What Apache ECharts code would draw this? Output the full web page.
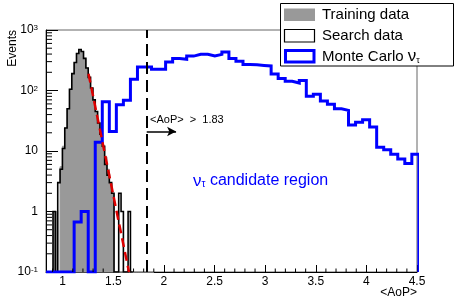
<!DOCTYPE html>
<html><head><meta charset="utf-8">
<script src="https://cdn.jsdelivr.net/npm/echarts@6/dist/echarts.min.js"></script>
<style>html,body{margin:0;padding:0;background:#fff}#c{width:463px;height:303px}</style>
</head><body><div id="c"></div>
<script>
// ---- axes ----
const xMin = 0.835, xMax = 4.5;
const yMin = 0.1, yMax = 1000;
const xLabelTicks = [1, 1.5, 2, 2.5, 3, 3.5, 4, 4.5];
const xMinorTicks = [0.9,1.1,1.2,1.3,1.4,1.6,1.7,1.8,1.9,2.1,2.2,2.3,2.4,2.6,2.7,2.8,2.9,3.1,3.2,3.3,3.4,3.6,3.7,3.8,3.9,4.1,4.2,4.3,4.4];
const yMinorTicks = [0.2,0.3,0.4,0.5,0.6,0.7,0.8,0.9,2,3,4,5,6,7,8,9,20,30,40,50,60,70,80,90,200,300,400,500,600,700,800,900];

// ---- Monte Carlo nu_tau histogram (coarse bins) ----
const mcStart = 0.835, mcWidth = 0.0695;
const mcCounts = [0,0,0,0,0.67,1.0,0,14,65,21,58,69,153,245,245,224,224,296,337,328,370,396,396,372,396,433,337,305,268,266,260,255,187,158,142,133,146,80,87,67,59,50,47,27,30,33,25,11.5,10.5,8.8,7.4,6.2,8.8];

// ---- training / search data (fine bins) ----
const fineStart = 0.835, fineWidth = 0.02317;
const trainCounts = [0,0,0,1,1,0,5.5,12,24,50,105,190,290,410,475,440,340,235,165,110,70,45,29,19,12,8,5,3,2,0,0,0,0,0,0,0,0,0,0,0,0,0,0,0,0,0];
const searchCounts = [0,0,0,1,0,3,5,11,24,50,105,190,290,410,475,440,340,235,165,110,70,45,29,19,12,6,4,3,2,0,0,2,1,0,0,1,0];

// ---- fit (red dashed) ----
const fitX = [1.255, 1.35, 1.45, 1.55, 1.655];
const fitY = [190, 31.6, 4.8, 0.72, 0.1];

// ---- cut ----
const xCut = 1.83, arrowEnd = 2.12, arrowY = 21;

function stepOutline(start, width, counts, floor) {
  const pts = [[start, floor]];
  counts.forEach((c, i) => {
    const lo = start + i * width, hi = lo + width, v = c > 0 ? c : floor;
    pts.push([lo, v], [hi, v]);
  });
  pts.push([start + counts.length * width, floor]);
  return pts;
}
const trainOutline = stepOutline(fineStart, fineWidth, trainCounts, yMin);
const searchOutline = stepOutline(fineStart, fineWidth, searchCounts, yMin);
const mcOutline = stepOutline(mcStart, mcWidth, mcCounts, yMin);

const FONT = 'Liberation Sans, Arial, Helvetica, sans-serif';
const chart = echarts.init(document.getElementById('c'), null, {renderer: 'canvas'});

chart.setOption({
  animation: false,
  backgroundColor: '#fff',
  textStyle: {fontFamily: FONT},
  grid: {left: 46, top: 30, width: 371, height: 242, show: true, borderColor: '#666', borderWidth: 1, containLabel: false},
  xAxis: {
    type: 'value', min: xMin, max: xMax,
    axisLine: {show: true, onZero: false, lineStyle: {color: '#000', width: 1}},
    axisTick: {show: true, inside: true, length: 7, customValues: xLabelTicks, lineStyle: {color: '#000'}},
    axisLabel: {customValues: xLabelTicks, fontSize: 12, color: '#000', margin: 4, fontFamily: FONT},
    splitLine: {show: false}
  },
  yAxis: {
    type: 'log', logBase: 10, min: yMin, max: yMax,
    axisLine: {show: true, lineStyle: {color: '#000', width: 1}},
    axisTick: {show: true, inside: true, length: 12, lineStyle: {color: '#000'}},
    axisLabel: {
      fontSize: 12, color: '#000', margin: 8, fontFamily: FONT,
      formatter: function (v) {
        const e = Math.round(Math.log10(v));
        if (e === 0) return '1';
        if (e === 1) return '10';
        return '10{s|' + e + '}';
      },
      rich: {s: {fontSize: 8, verticalAlign: 'top', fontFamily: FONT, color: '#000', padding: [0, 0, 4, 0]}}
    },
    splitLine: {show: false}
  },
  series: [
    {
      name: 'Training data', type: 'custom', z: 1,
      data: [0],
      renderItem: function (params, api) {
        const pts = trainOutline.map(p => api.coord(p));
        return {type: 'polygon', shape: {points: pts}, style: {fill: '#999999', stroke: '#999999', lineWidth: 1}};
      },
      silent: true
    },
    {
      name: 'Search data', type: 'line', z: 3, data: searchOutline,
      symbol: 'none', showSymbol: false, clip: true,
      lineStyle: {color: '#000', width: 1.6, join: 'miter'},
      markLine: {
        silent: true, symbol: ['none', 'none'], animation: false,
        label: {show: false},
        data: [
          {xAxis: xCut, lineStyle: {color: '#000', width: 2, type: [12, 6]}},
          [
            {coord: [xCut, arrowY], symbol: 'none', lineStyle: {color: '#000', width: 1.5, type: 'solid'}},
            {coord: [arrowEnd, arrowY], symbol: 'arrow', symbolSize: [7, 9]}
          ]
        ]
      }
    },
    {
      name: 'Monte Carlo', type: 'line', z: 4, data: mcOutline,
      symbol: 'none', showSymbol: false, clip: true,
      lineStyle: {color: '#0000ff', width: 3, join: 'miter'}
    },
    {
      name: 'Fit', type: 'line', z: 5, data: fitX.map((x, i) => [x, fitY[i]]),
      symbol: 'none', showSymbol: false, clip: true,
      lineStyle: {color: '#dd0000', width: 2.5, type: [9, 5]}
    },
    {
      name: 'xMinorTicks', type: 'custom', z: 6, silent: true,
      data: xMinorTicks.map(v => [v, yMin]),
      renderItem: function (params, api) {
        const p = api.coord([api.value(0), api.value(1)]);
        return {type: 'line', shape: {x1: p[0], y1: p[1], x2: p[0], y2: p[1] - 3.5}, style: {stroke: '#000', lineWidth: 1}};
      }
    },
    {
      name: 'yMinorTicks', type: 'custom', z: 6, silent: true,
      data: yMinorTicks.map(v => [xMin, v]),
      renderItem: function (params, api) {
        const p = api.coord([api.value(0), api.value(1)]);
        return {type: 'line', shape: {x1: p[0], y1: p[1], x2: p[0] + 6, y2: p[1]}, style: {stroke: '#000', lineWidth: 1}};
      }
    }
  ],
  graphic: [
    {type: 'text', x: 13, y: 30, rotation: Math.PI / 2, z: 10,
      style: {text: 'Events', font: '12px ' + FONT, fill: '#000', align: 'right', verticalAlign: 'middle'}},
    {type: 'text', x: 417, y: 293, z: 10,
      style: {text: '<AoP>', font: '12px ' + FONT, fill: '#000', align: 'right', verticalAlign: 'middle'}},
    {type: 'text', x: 150, y: 120, z: 10,
      style: {text: '<AoP>  >  1.83', font: '11px ' + FONT, fill: '#000', align: 'left', verticalAlign: 'middle'}},
    {type: 'text', x: 193, y: 181, z: 10,
      style: {text: '{g|ν}{sub|τ} candidate region', font: '16px ' + FONT, fill: '#0000ff', align: 'left', verticalAlign: 'middle',
        rich: {g: {font: '17px ' + FONT, fill: '#0000ff'}, sub: {font: '10px ' + FONT, fill: '#0000ff', verticalAlign: 'bottom'}}}},
    // legend
    {type: 'rect', z: 20, shape: {x: 280.5, y: 3.5, width: 173, height: 62.5}, style: {fill: '#fff', stroke: '#000', lineWidth: 1}},
    {type: 'rect', z: 21, shape: {x: 284, y: 8.5, width: 31, height: 12.5}, style: {fill: '#999999'}},
    {type: 'rect', z: 21, shape: {x: 284.5, y: 29.5, width: 30, height: 12.5}, style: {fill: '#fff', stroke: '#000', lineWidth: 1.2}},
    {type: 'rect', z: 21, shape: {x: 285.5, y: 50.5, width: 28.5, height: 11.5}, style: {fill: '#fff', stroke: '#0000ff', lineWidth: 3}},
    {type: 'text', z: 21, x: 322, y: 15, style: {text: 'Training data', font: '15px ' + FONT, fill: '#000', verticalAlign: 'middle'}},
    {type: 'text', z: 21, x: 322, y: 35.5, style: {text: 'Search data', font: '15px ' + FONT, fill: '#000', verticalAlign: 'middle'}},
    {type: 'text', z: 21, x: 322, y: 56.5, style: {text: 'Monte Carlo {g|ν}{sub|τ}', font: '15px ' + FONT, fill: '#000', verticalAlign: 'middle',
      rich: {g: {font: '17px ' + FONT, fill: '#000'}, sub: {font: '9px ' + FONT, fill: '#000', verticalAlign: 'bottom'}}}}
  ]
});
</script></body></html>
